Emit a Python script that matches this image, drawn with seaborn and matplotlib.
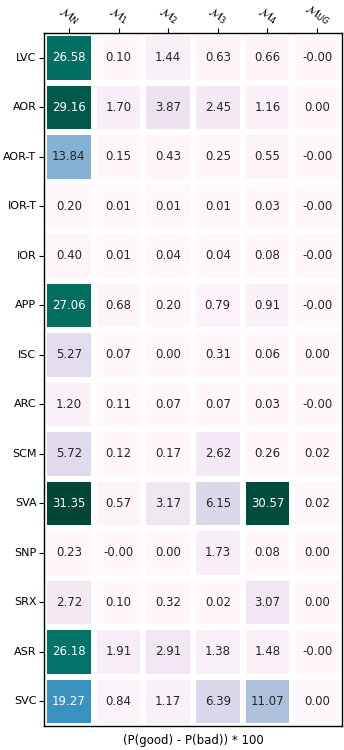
import numpy as np
import pandas as pd
import matplotlib
matplotlib.use("Agg")
import matplotlib.pyplot as plt
import seaborn as sns

rows = ["LVC", "AOR", "AOR-T", "IOR-T", "IOR", "APP", "ISC", "ARC", "SCM", "SVA", "SNP", "SRX", "ASR", "SVC"]
cols = [r"$\mathcal{M}_N$", r"$\mathcal{M}_1$", r"$\mathcal{M}_2$", r"$\mathcal{M}_3$", r"$\mathcal{M}_4$", r"$\mathcal{M}_{UG}$"]

m_n  = [26.58, 29.16, 13.84, 0.20, 0.40, 27.06, 5.27, 1.20, 5.72, 31.35, 0.23, 2.72, 26.18, 19.27]
m_1  = [0.10, 1.70, 0.15, 0.01, 0.01, 0.68, 0.07, 0.11, 0.12, 0.57, -0.001, 0.10, 1.91, 0.84]
m_2  = [1.44, 3.87, 0.43, 0.01, 0.04, 0.20, 0.00, 0.07, 0.17, 3.17, 0.00, 0.32, 2.91, 1.17]
m_3  = [0.63, 2.45, 0.25, 0.01, 0.04, 0.79, 0.31, 0.07, 2.62, 6.15, 1.73, 0.02, 1.38, 6.39]
m_4  = [0.66, 1.16, 0.55, 0.03, 0.08, 0.91, 0.06, 0.03, 0.26, 30.57, 0.08, 3.07, 1.48, 11.07]
m_ug = [-0.001, 0.00, -0.001, -0.001, -0.001, -0.001, 0.00, -0.001, 0.02, 0.02, 0.00, 0.00, -0.001, 0.00]

df = pd.DataFrame(np.array([m_n, m_1, m_2, m_3, m_4, m_ug]).T, index=rows, columns=cols)

fig = plt.figure(figsize=(3.44, 7.5), dpi=100)
ax = fig.add_axes([0.128, 0.032, 0.866, 0.924])
sns.heatmap(df, ax=ax, cmap="PuBuGn", annot=True, fmt=".2f", cbar=False,
            linewidths=3, linecolor="white",
            annot_kws={"fontsize": 8.5})
ax.xaxis.tick_top()
ax.set_xticklabels(cols, rotation=-30, ha="center", fontsize=8.5)
ax.set_yticklabels(rows, rotation=0, fontsize=8)
ax.tick_params(axis="both", length=3.5, width=0.8, colors="black", pad=2)
ax.tick_params(axis="x", pad=0.5)
ax.set_xlabel("(P(good) - P(bad)) * 100", fontsize=8.5, labelpad=6)
ax.xaxis.set_label_position("bottom")
ax.set_ylabel("")
for s in ax.spines.values():
    s.set_visible(True)
    s.set_linewidth(1.0)
    s.set_color("black")
fig.savefig("out.png", dpi=100)
